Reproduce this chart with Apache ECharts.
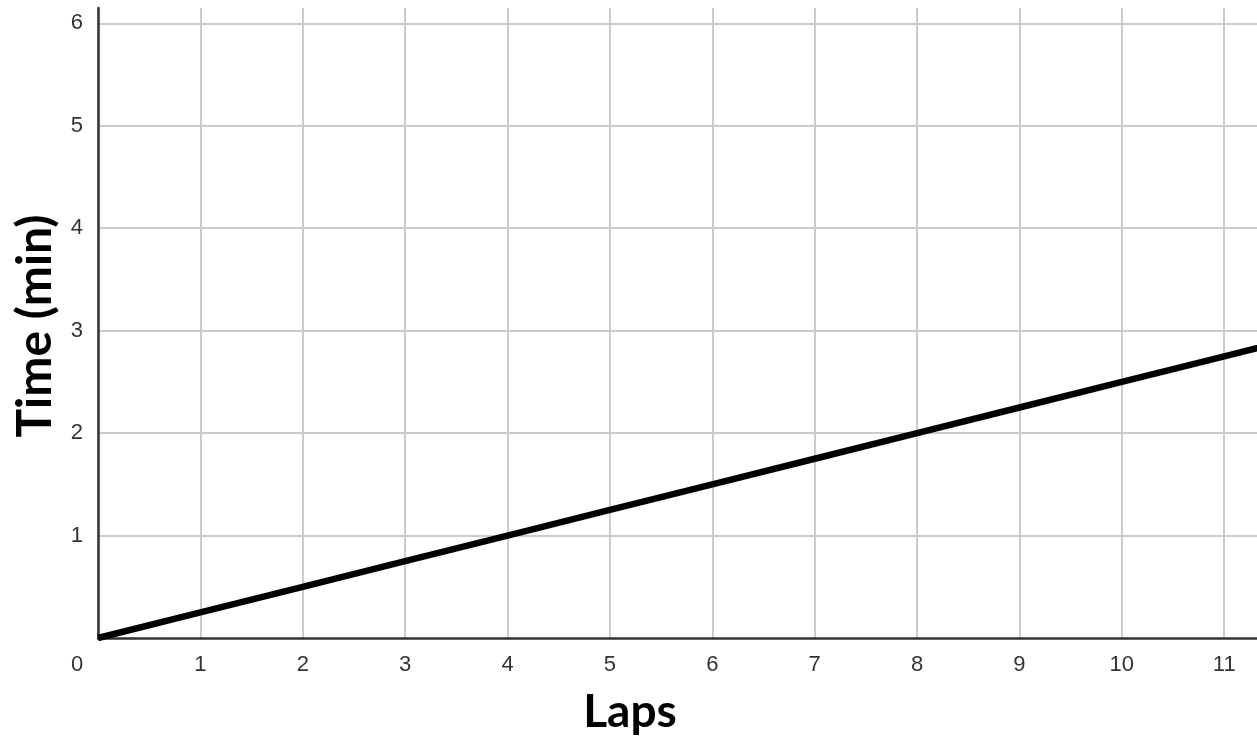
<!DOCTYPE html>
<html><head><meta charset="utf-8">
<script src="https://cdn.jsdelivr.net/npm/echarts@6/dist/echarts.min.js"></script>
<style>html,body{margin:0;padding:0;background:#fff}#c{width:1257px;height:736px}</style>
</head><body><div id="c"></div>
<script>
const laps = [0,1,2,3,4,5,6,7,8,9,10,11,12];
const timeMin = [0,0.25,0.5,0.75,1,1.25,1.5,1.75,2,2.25,2.5,2.75,3];
const xTitle = 'Laps';
const yTitle = 'Time (min)';

const chart = echarts.init(document.getElementById('c'), null, {renderer:'canvas'});
chart.setOption({
  animation:false,
  backgroundColor:'#fff',
  grid:{left:98,right:0,top:8,bottom:98},
  xAxis:{type:'value',min:0,max:11.32,interval:1,
    axisLine:{show:true,onZero:false,lineStyle:{color:'#333',width:2.5}},
    axisTick:{show:false},
    axisLabel:{showMaxLabel:false,margin:16,color:'#333',fontFamily:'Liberation Sans, Arial',fontSize:22,
      formatter:v=> v===0 ? '{z|0}' : String(v),
      rich:{z:{padding:[0,42,0,0],color:'#333',fontFamily:'Liberation Sans, Arial',fontSize:22}}},
    splitLine:{show:true,showMaxLine:false,lineStyle:{color:'#cccccc',width:2}}},
  yAxis:{type:'value',min:0,max:6.15,interval:1,
    axisLine:{show:true,lineStyle:{color:'#333',width:2.5}},
    axisTick:{show:false},
    axisLabel:{showMaxLabel:false,margin:15,color:'#333',fontFamily:'Liberation Sans, Arial',fontSize:22,
      formatter:v=> v===0 ? '' : String(v)},
    splitLine:{show:true,showMaxLine:false,showMinLine:false,lineStyle:{color:'#cccccc',width:2}}},
  series:[{type:'line',data:laps.map((x,i)=>[x,timeMin[i]]),symbol:'none',clip:true,
    lineStyle:{color:'#000',width:6.5}}],
  graphic:[
    {type:'text',x:630,y:712,style:{text:xTitle,fontFamily:'Lato',fontWeight:'bold',fontSize:46,fill:'#000',textAlign:'center',textVerticalAlign:'middle'}},
    {type:'text',x:36,y:326,rotation:Math.PI/2,style:{text:yTitle,fontFamily:'Lato',fontWeight:'bold',fontSize:48,fill:'#000',textAlign:'center',textVerticalAlign:'middle'}}
  ]
});
</script></body></html>
